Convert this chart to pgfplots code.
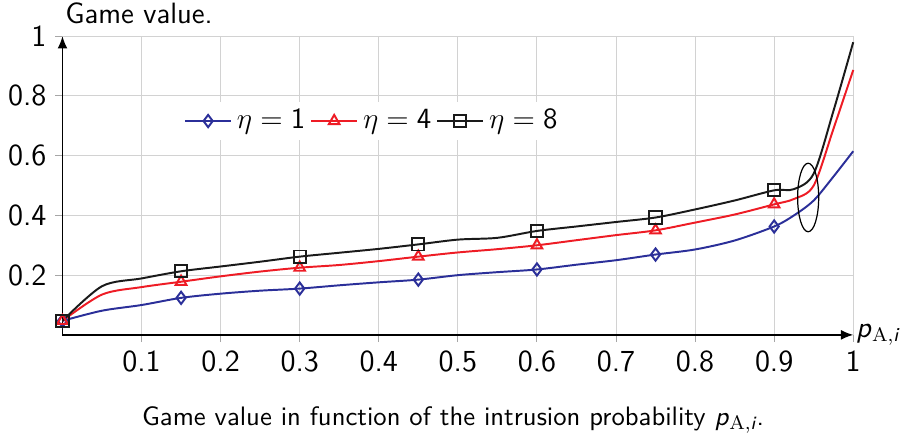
\documentclass[border=0pt]{standalone}
\usepackage{amsmath}
\usepackage{pgfplots}
\pgfplotsset{compat=1.18}
\usetikzlibrary{arrows.meta}
\definecolor{etaone}{HTML}{2B2F99}
\definecolor{etafour}{HTML}{EE1C25}
\definecolor{etaeight}{HTML}{1A1A1A}

\begin{document}
\begin{tikzpicture}[font=\sffamily]
\begin{axis}[
  scale only axis,
  width=323pt, height=122pt,
  xmin=0, xmax=1, ymin=0, ymax=1,
  axis lines=left,
  axis line style={-{Latex[length=5pt,width=4pt]}, line width=0.5pt},
  xtick={0.1,0.2,...,1.0},
  ytick={0.2,0.4,0.6,0.8,1},
  xticklabels={0.1,0.2,0.3,0.4,0.5,0.6,0.7,0.8,0.9,1},
  yticklabels={0.2,0.4,0.6,0.8,1},
  tick align=outside,
  major tick length=3pt,
  tick style={gray!70, line width=0.4pt},
  grid=major,
  grid style={gray!35, line width=0.4pt},
  /pgf/number format/assume math mode=true,
  ticklabel style={font=\sffamily\fontsize{12.5}{14}\selectfont},
  xlabel={\textit{p}$_{\mathrm{A},\textit{i}}$},
  xlabel style={at={(axis description cs:1,0)}, anchor=west, inner sep=1pt,
    font=\sffamily\fontsize{12}{14}\selectfont},
  ylabel={Game value.},
  ylabel style={at={(axis description cs:0,1)}, anchor=south west, rotate=-90,
    inner sep=1pt, yshift=4pt, font=\sffamily\fontsize{12}{14}\selectfont},
  legend columns=3,
  legend style={at={(0.393,0.716)}, anchor=center, draw=none, fill=white,
    font=\sffamily\fontsize{12}{14}\selectfont, inner sep=1pt, column sep=0pt},
  legend image code/.code={%
    \draw[mark indices={2}] plot coordinates {(0cm,0cm) (0.33cm,0cm) (0.66cm,0cm)};},
  every axis plot/.append style={line width=0.8pt, smooth, tension=0.5,
    mark size=2.5pt, mark options={solid, line width=0.8pt},
    mark indices={1,4,7,10,13,16,19}},
  clip=false,
]
\addplot[color=etaone, mark=diamond] coordinates {
  (0,0.047) (0.05,0.081) (0.1,0.100) (0.15,0.124) (0.2,0.138) (0.25,0.148)
  (0.3,0.155) (0.35,0.166) (0.4,0.176) (0.45,0.185) (0.5,0.200) (0.55,0.210)
  (0.6,0.219) (0.65,0.235) (0.7,0.250) (0.75,0.269) (0.8,0.286) (0.85,0.316)
  (0.9,0.363) (0.925,0.400) (0.95,0.450) (0.975,0.530) (1,0.615)
};
\addlegendentry{$\eta=\mathsf{1}$}
\addplot[color=etafour, mark=triangle] coordinates {
  (0,0.047) (0.05,0.135) (0.1,0.160) (0.15,0.178) (0.2,0.196) (0.25,0.212)
  (0.3,0.225) (0.35,0.234) (0.4,0.247) (0.45,0.262) (0.5,0.276) (0.55,0.287)
  (0.6,0.300) (0.65,0.317) (0.7,0.334) (0.75,0.350) (0.8,0.376) (0.85,0.403)
  (0.9,0.437) (0.925,0.455) (0.95,0.500) (0.975,0.690) (1,0.887)
};
\addlegendentry{$\eta=\mathsf{4}$}
\addplot[color=etaeight, mark=square] coordinates {
  (0,0.047) (0.05,0.163) (0.1,0.189) (0.15,0.213) (0.2,0.229) (0.25,0.245)
  (0.3,0.262) (0.35,0.275) (0.4,0.288) (0.45,0.303) (0.5,0.319) (0.55,0.325)
  (0.6,0.348) (0.65,0.363) (0.7,0.378) (0.75,0.393) (0.8,0.420) (0.85,0.450)
  (0.9,0.484) (0.925,0.488) (0.95,0.540) (0.975,0.750) (1,0.980)
};
\addlegendentry{$\eta=\mathsf{8}$}
\draw[line width=0.5pt] (axis cs:0.943,0.46) ellipse [x radius=4.3pt, y radius=14pt];
\coordinate (cap) at (axis cs:0.494,0);
\end{axis}
\node[anchor=base, font=\sffamily\fontsize{10.9}{12}\selectfont] at ([yshift=-37pt]cap)
  {Game value in function of the intrusion probability \textit{p}$_{\mathrm{A},\textit{i}}$.};
\end{tikzpicture}
\end{document}
